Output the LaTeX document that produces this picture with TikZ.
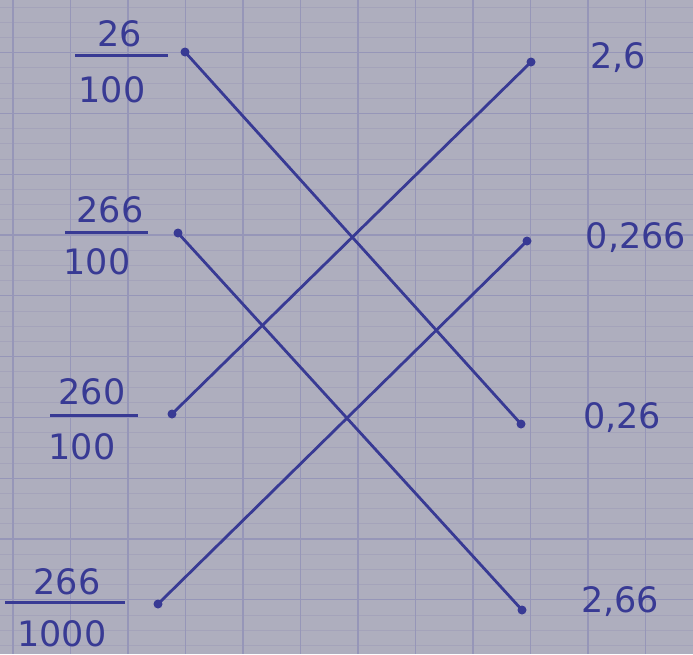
\documentclass[tikz,border=0pt]{standalone}
\usepackage{fontspec}
\setmainfont{DejaVu Sans}
\definecolor{paper}{RGB}{174,174,190}
\definecolor{ink}{RGB}{56,58,148}
\definecolor{gridline}{RGB}{150,150,184}
\definecolor{fineline}{RGB}{164,163,186}
\tikzset{
  num/.style={text=ink, inner sep=0pt, font=\fontsize{35}{38}\selectfont},
  dot/.style={circle, fill=ink, inner sep=0pt, minimum size=9pt},
  link/.style={draw=ink, line width=2.8pt},
  bar/.style={draw=ink, line width=3pt},
}
\begin{document}
\begin{tikzpicture}[x=1pt,y=-1pt]
\useasboundingbox (0,0) rectangle (693,654);
\fill[paper] (0,0) rectangle (693,654);
% squared paper
\foreach \k in {0,...,43}
  \draw[fineline, line width=0.8pt] (0,{-8.3+15.2*\k}) -- (693,{-8.3+15.2*\k});
\foreach \k in {1,...,10}
  \draw[gridline, line width=1.2pt] (0,{-8.3+60.8*\k}) -- (693,{-8.3+60.8*\k});
\foreach \j in {0,...,11}
  \draw[gridline, line width=1.2pt] ({13+57.5*\j},0) -- ({13+57.5*\j},654);

% fractions
\node[num] (n1) at (120,34) {26};
\draw[bar] (75,55) -- (168,55);
\node[num] (d1) at (112,90) {100};
\node[num] (n2) at (110,210) {266};
\draw[bar] (65,232) -- (148,232);
\node[num] (d2) at (97,262) {100};
\node[num] (n3) at (92,392) {260};
\draw[bar] (50,415) -- (138,415);
\node[num] (d3) at (82,447) {100};
\node[num] (n4) at (67,582) {266};
\draw[bar] (5,602) -- (125,602);
\node[num] (d4) at (62,634) {1000};

% decimals
\node[num] (r1) at (618,58) {2,6};
\node[num] (r2) at (636,238) {0,266};
\node[num] (r3) at (622,418) {0,26};
\node[num] (r4) at (620,602) {2,66};

% points
\node[dot] (a1) at (185,52) {};
\node[dot] (a2) at (178,233) {};
\node[dot] (a3) at (172,414) {};
\node[dot] (a4) at (158,604) {};
\node[dot] (b1) at (531,62) {};
\node[dot] (b2) at (527,241) {};
\node[dot] (b3) at (521,424) {};
\node[dot] (b4) at (522,610) {};

\draw[link] (a1.center) -- (b3.center);
\draw[link] (a2.center) -- (b4.center);
\draw[link] (a3.center) -- (b1.center);
\draw[link] (a4.center) -- (b2.center);
\end{tikzpicture}
\end{document}
